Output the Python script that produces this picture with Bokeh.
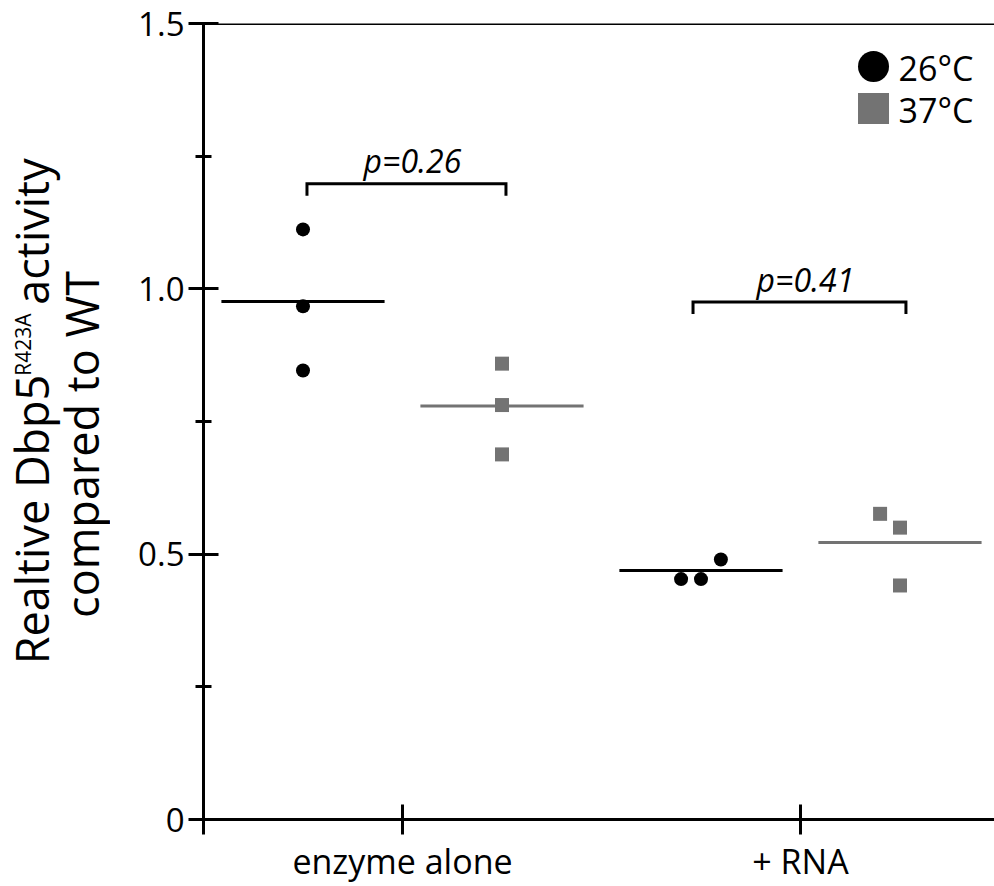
import math
from bokeh.plotting import figure
from bokeh.layouts import row
from bokeh.models import Range1d, FixedTicker, Span
from bokeh.core.properties import value
from bokeh.embed import file_html
from bokeh.resources import INLINE

# ---------------- data ----------------
categories = ["enzyme alone", "+ RNA"]
category_ticks = [1, 3]
temps = ["26°C", "37°C"]

x_26 = [0.5, 0.5, 0.5, 2.40, 2.50, 2.60]
y_26 = [1.112, 0.967, 0.846, 0.453, 0.453, 0.490]
x_37 = [1.5, 1.5, 1.5, 3.40, 3.50, 3.50]
y_37 = [0.859, 0.781, 0.688, 0.576, 0.550, 0.441]

mean_x_26 = [0.5, 2.5]
mean_26 = [0.976, 0.469]
mean_x_37 = [1.5, 3.5]
mean_37 = [0.779, 0.522]

p_labels = ["p=0.26", "p=0.41"]
bracket_x0 = [0.52, 2.46]
bracket_x1 = [1.52, 3.53]
bracket_y = [1.198, 0.975]

y_ticks = [0, 0.5, 1.0, 1.5]
y_minor = [0.25, 0.75, 1.25]
y_tick_labels = ["0", "0.5", "1.0", "1.5"]

title_parts = ["Realtive Dbp5", "R423A", "activity", "compared to WT"]

# ---------------- style ----------------
FONT = "Open Sans"
BLACK = "#000000"
GRAY = "#737373"
LW = 3
H = 886
TITLE_W = 110
TOP, BOTTOM = 23, 67

y_range = Range1d(0, 1.5)
PX = 1.5 / (H - TOP - BOTTOM)          # data units per pixel (vertical)

# ---------- y-axis title panel (narrow helper figure sharing the y range) ----------
tf = figure(width=TITLE_W, height=H, output_backend="svg", toolbar_location=None,
            x_range=Range1d(0, TITLE_W), y_range=y_range,
            x_axis_type=None, y_axis_type=None,
            min_border_left=0, min_border_right=0,
            min_border_top=TOP, min_border_bottom=BOTTOM)
tf.outline_line_color = None
tf.grid.visible = False
tf.background_fill_color = "white"
tf.border_fill_color = "white"

ang = math.pi / 2
# centre of each title piece: px from left, px above the x axis; font sizes
t_x = [30.5, 22.0, 30.5, 80.5]
t_up = [300, 475, 588, 375]
t_size = ["45px", "21px", "45px", "45px"]
for txt, tx, tu, ts in zip(title_parts, t_x, t_up, t_size):
    tf.text(x=[tx], y=[tu * PX], text=[txt], angle=ang,
            text_font=value(FONT), text_font_size=ts,
            text_baseline="middle", text_align="center", text_color=BLACK)

# ---------------- main plot ----------------
X_MAX = 3.975
p = figure(width=994 - TITLE_W, height=H, output_backend="svg", toolbar_location=None,
           x_range=Range1d(0, X_MAX), y_range=y_range,
           min_border_left=203 - TITLE_W, min_border_right=0,
           min_border_top=TOP, min_border_bottom=BOTTOM)
p.outline_line_color = None
p.xgrid.visible = False
p.ygrid.visible = False
p.background_fill_color = "white"
p.border_fill_color = "white"

# y axis
yax = p.yaxis[0]
yax.ticker = FixedTicker(ticks=y_ticks, minor_ticks=y_minor)
yax.major_label_overrides = {t: l for t, l in zip(y_ticks, y_tick_labels)}
yax.axis_line_width = LW
yax.major_tick_line_width = LW
yax.minor_tick_line_width = LW
yax.major_tick_in = 15
yax.major_tick_out = 15
yax.minor_tick_in = 8
yax.minor_tick_out = 8
yax.major_label_standoff = 4
yax.major_label_text_font = FONT
yax.major_label_text_font_size = "33px"
yax.major_label_text_color = BLACK
yax.axis_line_color = BLACK
yax.major_tick_line_color = BLACK
yax.minor_tick_line_color = BLACK

# x axis
xax = p.xaxis[0]
xax.ticker = FixedTicker(ticks=[0] + category_ticks, minor_ticks=[])
overrides = {0: ""}
overrides.update(dict(zip(category_ticks, categories)))
xax.major_label_overrides = overrides
xax.axis_line_width = LW
xax.major_tick_line_width = LW
xax.major_tick_in = 15
xax.major_tick_out = 15
xax.major_label_standoff = 3
xax.major_label_text_font = FONT
xax.major_label_text_font_size = "34px"
xax.major_label_text_color = BLACK
xax.axis_line_color = BLACK
xax.major_tick_line_color = BLACK

# top frame line
p.add_layout(Span(location=1.5, dimension="width", line_color=BLACK, line_width=LW))

# mean lines
half = 0.41
p.segment(x0=[x - half for x in mean_x_26], y0=mean_26,
          x1=[x + half for x in mean_x_26], y1=mean_26,
          line_color=BLACK, line_width=LW)
p.segment(x0=[x - half for x in mean_x_37], y0=mean_37,
          x1=[x + half for x in mean_x_37], y1=mean_37,
          line_color=GRAY, line_width=LW)

# points
p.scatter(x_26, y_26, marker="circle", size=14, fill_color=BLACK, line_color=None)
p.scatter(x_37, y_37, marker="square", size=14, fill_color=GRAY, line_color=None)

# significance brackets
leg = 12 * PX
xs = [[a, a, b, b] for a, b in zip(bracket_x0, bracket_x1)]
ys = [[y - leg, y, y, y - leg] for y in bracket_y]
p.multi_line(xs, ys, line_color=BLACK, line_width=LW, line_join="miter")
p.text(x=[(a + b) / 2 + 0.03 for a, b in zip(bracket_x0, bracket_x1)], y=bracket_y, text=p_labels,
       text_font=value(FONT), text_font_style="italic", text_font_size="32px",
       text_align="center", text_baseline="middle", y_offset=-23, text_color=BLACK)

# legend (drawn manually to match marker size)
leg_x = 3.367
leg_y = [1.419, 1.340]
p.scatter([leg_x], [leg_y[0]], marker="circle", size=31, fill_color=BLACK, line_color=None)
p.scatter([leg_x], [leg_y[1]], marker="square", size=31, fill_color=GRAY, line_color=None)
p.text(x=[leg_x, leg_x], y=leg_y, text=temps, x_offset=25, y_offset=2,
       text_font=value(FONT), text_font_size="34px", text_baseline="middle",
       text_align="left", text_color=BLACK)

layout = row(tf, p)
open("out.html", "w").write(file_html(layout, INLINE))
